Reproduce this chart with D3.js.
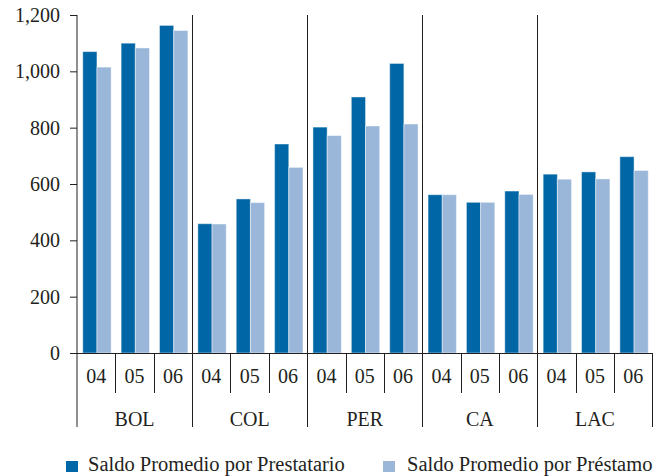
<!DOCTYPE html>
<html>
<head>
<meta charset="utf-8">
<script src="https://cdn.jsdelivr.net/npm/d3@7"></script>
<style>
  html, body { margin: 0; padding: 0; background: #fff; }
</style>
</head>
<body>
<svg id="chart" width="662" height="476"></svg>
<script>
// Regions and years shown on the category axis
const regions = ["BOL", "COL", "PER", "CA", "LAC"];
const years = ["04", "05", "06"];

// Average balance per borrower, by region and year (04, 05, 06)
const perBorrower = [
  1070, 1100, 1163,
  459, 547, 742,
  802, 909, 1028,
  562, 535, 575,
  635, 643, 697
];
// Average balance per loan, by region and year (04, 05, 06)
const perLoan = [
  1015, 1083, 1145,
  458, 534, 659,
  772, 806, 813,
  562, 535, 563,
  617, 618, 648
];

const seriesNames = ["Saldo Promedio por Prestatario", "Saldo Promedio por Préstamo"];
const seriesColors = ["#0066a6", "#9ab7da"];
const yTicks = [0, 200, 400, 600, 800, 1000, 1200];

const FONT = "Liberation Serif";
const INK = "#231f20";

const svg = d3.select("#chart");
const plot = { left: 77, right: 652.5, top: 15, bottom: 353 };

const x = d3.scaleBand().domain(regions).range([plot.left, plot.right]);
const xYear = d3.scaleBand().domain(years).range([0, x.bandwidth()]);
const slot = xYear.bandwidth();
const xSeries = d3.scaleBand().domain([0, 1]).range([slot * 0.15, slot * 0.89]);
const y = d3.scaleLinear().domain([0, 1200]).range([plot.bottom, plot.top]);

function label(sel, size) {
  return sel.attr("font-family", FONT).attr("font-size", size || 20).attr("fill", INK);
}

const rows = [];
regions.forEach((r, ri) => years.forEach((yr, yi) => {
  const i = ri * years.length + yi;
  rows.push({ region: r, year: yr, values: [perBorrower[i], perLoan[i]] });
}));

// Bars
const bars = svg.append("g");
rows.forEach(row => {
  row.values.forEach((v, s) => {
    bars.append("rect")
      .attr("x", x(row.region) + xYear(row.year) + xSeries(s))
      .attr("y", y(v))
      .attr("width", xSeries.bandwidth())
      .attr("height", y(0) - y(v))
      .attr("fill", seriesColors[s])
      .attr("stroke", "#ffffff")
      .attr("stroke-opacity", 0.45)
      .attr("stroke-width", 1);
  });
});

// Y axis
const yAxis = d3.axisLeft(y).tickValues(yTicks).tickSize(7).tickPadding(10)
  .tickFormat(d3.format(","));
const gy = svg.append("g").attr("transform", `translate(${plot.left},0)`).call(yAxis);
gy.attr("font-family", FONT).attr("font-size", 20);
gy.select(".domain").remove();
gy.selectAll(".tick line").attr("stroke", INK);
label(gy.selectAll(".tick text"));

const yearBottom = 393;
const groupBottom = 427;

// Vertical axis line, continuing down as the first group separator
svg.append("line")
  .attr("x1", plot.left).attr("x2", plot.left)
  .attr("y1", plot.top).attr("y2", groupBottom)
  .attr("stroke", INK);

// Group separators between regions, running full height
regions.slice(1).forEach(r => {
  svg.append("line")
    .attr("x1", Math.round(x(r)) + 0.5).attr("x2", Math.round(x(r)) + 0.5)
    .attr("y1", plot.top).attr("y2", groupBottom)
    .attr("stroke", INK);
});
// Right edge of the category axis
svg.append("line")
  .attr("x1", plot.right).attr("x2", plot.right)
  .attr("y1", plot.bottom).attr("y2", groupBottom)
  .attr("stroke", INK);

// Baseline
svg.append("line")
  .attr("x1", plot.left - 7).attr("x2", plot.right)
  .attr("y1", plot.bottom + 0.5).attr("y2", plot.bottom + 0.5)
  .attr("stroke", INK);

// Year separators and labels
regions.forEach(r => {
  years.forEach((yr, yi) => {
    const x0 = x(r) + xYear(yr);
    if (yi > 0) {
      svg.append("line")
        .attr("x1", Math.round(x0) + 0.5).attr("x2", Math.round(x0) + 0.5)
        .attr("y1", plot.bottom).attr("y2", yearBottom)
        .attr("stroke", INK);
    }
    label(svg.append("text")
      .attr("x", x0 + slot / 2)
      .attr("y", 383)
      .attr("text-anchor", "middle"))
      .text(yr);
  });
  label(svg.append("text")
    .attr("x", x(r) + x.bandwidth() / 2)
    .attr("y", 426)
    .attr("text-anchor", "middle"))
    .text(r);
});

// Legend
const legendX = [66, 383];
seriesNames.forEach((name, s) => {
  const g = svg.append("g").attr("transform", `translate(${legendX[s]},460)`);
  g.append("rect").attr("y", 1).attr("width", 12).attr("height", 11).attr("fill", seriesColors[s]);
  label(g.append("text").attr("x", s === 0 ? 22 : 24).attr("y", 11), 20.5).text(name);
});
</script>
</body>
</html>
